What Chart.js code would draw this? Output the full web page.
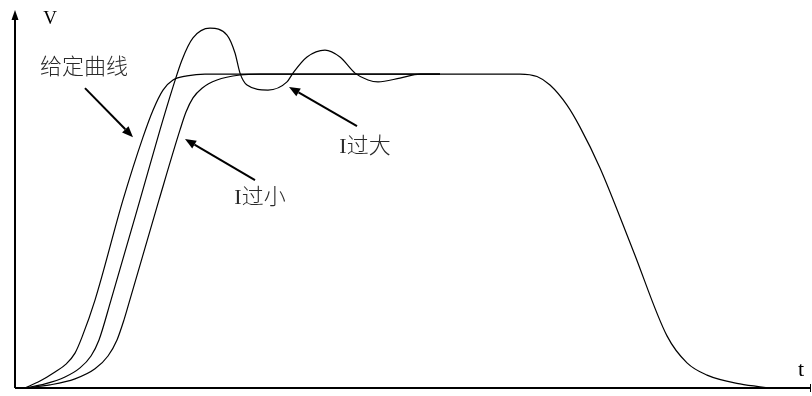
<!DOCTYPE html>
<html>
<head>
<meta charset="utf-8">
<script src="https://cdn.jsdelivr.net/npm/chart.js@4"></script>
<style>
  html, body { margin: 0; padding: 0; background: #fff; }
  #box { width: 812px; height: 396px; }
</style>
</head>
<body>
<div id="box"><canvas id="grafico" width="812" height="396"></canvas></div>
<script>
/* t = time (arbitrary units), V = percent of set value */
const tGiven = [1.0, 2.5, 4.0, 5.1, 6.0, 6.7, 8.0, 10.8, 12.8, 13.8, 14.8, 15.8, 17.2, 19.0, 50.5, 52.2, 53.5, 55.2, 56.5, 58.5, 61.8, 65.2, 67.2, 69.2, 72.5, 75.5];
const vGiven = [0, 2.2, 5.1, 7.6, 11.1, 16.2, 28.0, 59.9, 79.9, 88.5, 94.9, 98.1, 99.4, 100, 100, 99.2, 96.5, 90.1, 83.1, 70.1, 43.9, 16.6, 8.0, 4.1, 1.3, 0];

const tBig = [1.0, 3.0, 5.0, 6.5, 7.6, 8.4, 9.6, 12.5, 14.5, 15.8, 16.7, 17.8, 19.5, 21.2, 22.0, 22.5, 23.2, 25.3, 27.2, 27.8, 29.2, 31.0, 32.5, 34.0, 35.3, 36.3, 38.5, 40.5, 42.5];
const vBig = [0, 1.3, 3.5, 6.4, 10.2, 15.3, 28.0, 59.9, 82.2, 95.9, 104.5, 111.5, 114.6, 112.4, 106.7, 100.3, 96.5, 94.9, 97.5, 100.3, 105.4, 107.6, 105.4, 100.3, 98.1, 97.5, 98.7, 100, 100];

const tSmall = [1.0, 3.5, 6.0, 8.0, 9.3, 10.2, 10.9, 11.4, 14.4, 16.5, 17.1, 17.8, 18.7, 20.2, 22.5, 24.5, 42.5];
const vSmall = [0, 1.0, 2.9, 6.1, 10.2, 15.3, 21.7, 27.1, 59.9, 82.2, 87.9, 92.4, 95.5, 98.1, 99.7, 100, 100];

const tMax = 79.6;
const vMax = 120.4;
const axisNames = ["V", "t"];

// labels and arrows (tail -> tip), in data units
const labelTexts = ["给定曲线", "I过大", "I过小"];
const labelT = [6.9, 35.0, 24.5];
const labelV = [101.9, 76.8, 60.5];
const arrowFrom = [[7.0, 95.5], [34.2, 83.4], [24.0, 66.2]];
const arrowTo = [[11.8, 79.9], [27.4, 95.9], [17.0, 79.3]];

function pares(ts, vs) {
  return ts.map((t, i) => ({ x: t, y: vs[i] }));
}

function serie(nome, ts, vs) {
  return {
    label: nome,
    data: pares(ts, vs),
    showLine: true,
    borderColor: "#000",
    borderWidth: 1.2,
    pointRadius: 0,
    cubicInterpolationMode: "monotone",
    fill: false
  };
}

function seta(ctx, x1, y1, x2, y2, comp, larg) {
  const ang = Math.atan2(y2 - y1, x2 - x1);
  const bx = x2 - comp * Math.cos(ang);
  const by = y2 - comp * Math.sin(ang);
  ctx.beginPath();
  ctx.moveTo(x1, y1);
  ctx.lineTo(bx, by);
  ctx.stroke();
  ctx.beginPath();
  ctx.moveTo(x2, y2);
  ctx.lineTo(bx + larg * Math.sin(ang), by - larg * Math.cos(ang));
  ctx.lineTo(bx - larg * Math.sin(ang), by + larg * Math.cos(ang));
  ctx.closePath();
  ctx.fill();
}

/* axes with arrows + annotations */
const eixos = {
  id: "eixos",
  afterDraw(chart) {
    const ctx = chart.ctx;
    const sx = chart.scales.x, sy = chart.scales.y;
    const x0 = sx.getPixelForValue(0), y0 = sy.getPixelForValue(0);
    const xEnd = sx.getPixelForValue(tMax), yTop = sy.getPixelForValue(vMax);

    ctx.save();
    ctx.strokeStyle = "#000";
    ctx.fillStyle = "#000";
    ctx.lineWidth = 2;
    seta(ctx, x0, y0, x0, yTop, 10, 3.5);
    ctx.beginPath();
    ctx.moveTo(x0, y0);
    ctx.lineTo(xEnd, y0);
    ctx.stroke();
    ctx.lineWidth = 1;
    ctx.beginPath();
    ctx.moveTo(xEnd - 0.5, y0 - 4);
    ctx.lineTo(xEnd - 0.5, y0 + 4);
    ctx.stroke();

    ctx.font = "19px 'Liberation Serif'";
    ctx.textAlign = "center";
    ctx.textBaseline = "middle";
    ctx.fillText(axisNames[0], x0 + 35, yTop + 9);
    ctx.font = "22px 'Liberation Serif'";
    ctx.fillText(axisNames[1], xEnd - 10, y0 - 18);

    ctx.fillStyle = "#2a2a2a";
    ctx.font = "300 22px 'Liberation Serif', 'Noto Sans CJK SC'";
    labelTexts.forEach((txt, i) => {
      ctx.fillText(txt, sx.getPixelForValue(labelT[i]), sy.getPixelForValue(labelV[i]));
    });

    ctx.fillStyle = "#000";
    ctx.lineWidth = 2;
    arrowFrom.forEach((a, i) => {
      const b = arrowTo[i];
      seta(ctx, sx.getPixelForValue(a[0]), sy.getPixelForValue(a[1]),
        sx.getPixelForValue(b[0]), sy.getPixelForValue(b[1]), 11, 4.5);
    });
    ctx.restore();
  }
};

new Chart(document.getElementById("grafico"), {
  type: "scatter",
  data: {
    datasets: [
      serie("给定曲线", tGiven, vGiven),
      serie("I过大", tBig, vBig),
      serie("I过小", tSmall, vSmall)
    ]
  },
  options: {
    responsive: false,
    animation: false,
    devicePixelRatio: 1,
    layout: { padding: { left: 15, right: 1, top: 10, bottom: 8 } },
    plugins: { legend: { display: false }, tooltip: { enabled: false } },
    scales: {
      x: { type: "linear", min: 0, max: tMax, display: false },
      y: { type: "linear", min: 0, max: vMax, display: false }
    }
  },
  plugins: [eixos]
});
</script>
</body>
</html>
